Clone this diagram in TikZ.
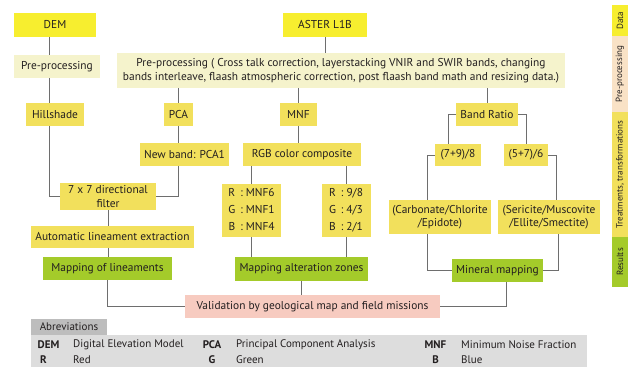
\documentclass[tikz,border=0pt]{standalone}
\usepackage{fontspec}
\setmainfont{PT Sans}
\usepackage{array}
\usetikzlibrary{positioning,calc}
\definecolor{Ink}{HTML}{231F20}
\definecolor{LinkGray}{HTML}{6E6E6E}
\definecolor{DataYellow}{HTML}{F7EE2F}
\definecolor{PreCream}{HTML}{F5F3CC}
\definecolor{TreatYellow}{HTML}{F2E05C}
\definecolor{ResGreen}{HTML}{A4CB2A}
\definecolor{CheckPink}{HTML}{F7CBC0}
\definecolor{PrePeach}{HTML}{F9E2C6}
\definecolor{AbbHead}{HTML}{BDBDBD}
\definecolor{AbbBody}{HTML}{DDDDDD}
\tikzset{
  box/.style={inner sep=0pt,align=center,text=Ink,font=\fontsize{11.4}{13.5}\selectfont},
  dataBox/.style={box,fill=DataYellow},
  preBox/.style={box,fill=PreCream},
  treatBox/.style={box,fill=TreatYellow},
  resultBox/.style={box,fill=ResGreen},
  checkBox/.style={box,fill=CheckPink},
  legendBand/.style={inner sep=0pt,minimum width=16,rotate=90,text=Ink,font=\fontsize{9}{10}\selectfont},
  abbKey/.style={inner sep=0pt,text=Ink,font=\fontsize{11}{12}\selectfont\bfseries},
  abbText/.style={inner sep=0pt,anchor=west,text=Ink,font=\fontsize{11}{12}\selectfont},
  link/.style={draw=LinkGray,line width=.8pt}
}

\begin{document}
\begin{tikzpicture}[x=1pt,y=-1pt]
  \useasboundingbox (0,0) rectangle (634,367);

  % Data and pre-processing
  \node[dataBox,minimum width=82,minimum height=24] (dem) at (55,25) {DEM};
  \node[dataBox,minimum width=84,minimum height=24] (aster) at (325,25) {ASTER L1B};
  \node[preBox,minimum width=86,minimum height=23] (pre1) at (57,66.5) {Pre-processing};
  \node[preBox,minimum width=448,minimum height=35] (pre2) at (341,70.5) {Pre-processing ( Cross talk correction, layerstacking VNIR and SWIR bands, changing\\bands interleave, flaash atmospheric correction, post flaash band math and resizing data.)};

  % Treatments, transformations
  \node[treatBox,minimum width=58,minimum height=23] (hill) at (55,114.5) {Hillshade};
  \node[treatBox,minimum width=29,minimum height=23] (pca) at (178.5,114.5) {PCA};
  \node[treatBox,minimum width=37,minimum height=23] (mnf) at (298.5,114.5) {MNF};
  \node[treatBox,minimum width=62,minimum height=23] (ratio) at (487,114.5) {Band Ratio};
  \node[treatBox,minimum width=89,minimum height=23] (pca1) at (184.5,154.5) {New band: PCA1};
  \node[treatBox,minimum width=118,minimum height=23] (rgb) at (302,154.5) {RGB color composite};
  \node[treatBox,minimum width=46,minimum height=22] (r79) at (458,155) {(7+9)/8};
  \node[treatBox,minimum width=44,minimum height=22] (r576) at (526,155) {(5+7)/6};
  \node[treatBox,minimum width=96,minimum height=27] (filt) at (108,196.5) {7 x 7 directional\\filter};
  \node[treatBox,minimum width=59,minimum height=53] (mnfSet) at (251.5,210.5)
    {\renewcommand{\arraystretch}{1.26}\begin{tabular}{@{}c@{\ \,:\ }l@{}}R&MNF6\\G&MNF1\\B&MNF4\end{tabular}};
  \node[treatBox,minimum width=49,minimum height=53] (ratioSet) at (346,210.5)
    {\renewcommand{\arraystretch}{1.26}\begin{tabular}{@{}c@{\ \,:\ }l@{}}R&9/8\\G&4/3\\B&2/1\end{tabular}};
  \node[treatBox,minimum width=102,minimum height=34] (carb) at (440,217) {(Carbonate/Chlorite\\/Epidote)};
  \node[treatBox,minimum width=102,minimum height=34] (seri) at (549,217) {(Sericite/Muscovite\\/Ellite/Smectite)};
  \node[treatBox,minimum width=163,minimum height=22] (auto) at (112.5,237) {Automatic lineament extraction};

  % Results
  \node[resultBox,minimum width=129,minimum height=23] (lin) at (107.5,268.5) {Mapping of lineaments};
  \node[resultBox,minimum width=133,minimum height=24] (alter) at (301.5,269) {Mapping alteration zones};
  \node[resultBox,minimum width=91,minimum height=23] (mineral) at (497.5,270.5) {Mineral mapping};
  \node[checkBox,minimum width=255,minimum height=23] (valid) at (312.5,306.5) {Validation by geological map and field missions};

  % Connectors
  \coordinate (xDem) at (49,0);
  \draw[link] (dem.south -| xDem) -- (pre1.north -| xDem);
  \draw[link] (pre1.south -| xDem) -- (hill.north -| xDem);
  \draw[link] (hill.south -| xDem) |- (filt.west);
  \draw[link] (aster.south) -- (aster.south |- pre2.north);
  \draw[link] (pca.north |- pre2.south) -- (pca.north);
  \draw[link] (mnf.north |- pre2.south) -- (mnf.north);
  \draw[link] (ratio.north |- pre2.south) -- (ratio.north);
  \draw[link] (pca.south) -- (pca.south |- pca1.north);
  \draw[link] (pca.south |- pca1.south) |- (filt.east);
  \draw[link] (filt.south) -- (filt.south |- auto.north);
  \draw[link] (filt.south |- auto.south) -- (filt.south |- lin.north);
  \draw[link] (lin.south) |- (valid.west);
  \draw[link] (mnf.south) -- (mnf.south |- rgb.north);
  \draw[link] (mnfSet.north |- rgb.south) -- (mnfSet.north);
  \draw[link] (ratioSet.north |- rgb.south) -- (ratioSet.north);
  \draw[link] (mnfSet.south) -- (mnfSet.south |- alter.north);
  \draw[link] (ratioSet.south) -- (ratioSet.south |- alter.north);
  \draw[link] (alter.south) -- (alter.south |- valid.north);
  \draw[link] (ratio.west) -| ([xshift=-10]r79.north);
  \draw[link] (ratio.east) -| (r576.north);
  \draw[link] (r79.west) -| ([xshift=-13]carb.north);
  \draw[link] (r576.east) -| ([xshift=7]seri.north);
  \draw[link] ([xshift=-13]carb.south) |- (mineral.west);
  \draw[link] ([xshift=9]seri.south) |- (mineral.east);
  \draw[link] ([xshift=8.5]mineral.south) |- (valid.east);

  % Legend of stages
  \foreach \top/\bot/\col/\lab in {5/36/DataYellow/Data,36/112/PrePeach/Pre-processing,112/237/TreatYellow/{Treatments, transformations},237/287/ResGreen/Results}{
    \fill[\col] (612,\top) rectangle (628,\bot);
    \node[legendBand] at (620,{(\top+\bot)/2}) {\lab};
  }

  % Abbreviations
  \node[fill=AbbHead,minimum width=76,minimum height=16,inner sep=0pt,text=Ink,font=\fontsize{11}{12}\selectfont] (abbHead) at (69,327) {Abreviations};
  \fill[AbbBody] (31,335) rectangle (587,367);
  \foreach \kx/\tx/\key/\txt/\ky in {48.5/73/DEM/Digital Elevation Model/345,212/236/PCA/Principal Component Analysis/345,435.5/461/MNF/Minimum Noise Fraction/345,43.5/73/R/Red/359.5,212/236/G/Green/359.5,435.5/461/B/Blue/359.5}{
    \node[abbKey] at (\kx,\ky) {\key};
    \node[abbText] at (\tx,\ky) {\txt};
  }
\end{tikzpicture}
\end{document}
